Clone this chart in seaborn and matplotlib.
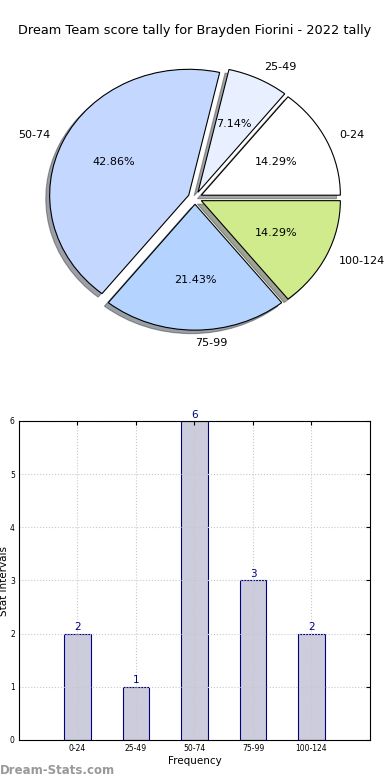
import matplotlib
matplotlib.use("Agg")
import matplotlib.pyplot as plt
import seaborn as sns
import pandas as pd

# Data
intervals = ["0-24", "25-49", "50-74", "75-99", "100-124"]
counts = [2, 1, 6, 3, 2]
pie_colors = ["#ffffff", "#e8f0ff", "#c4d8ff", "#b4d4ff", "#cfeb8c"]
title = "Dream Team score tally for Brayden Fiorini - 2022 tally"

sns.set_style("white")
plt.rcParams["font.family"] = ["DejaVu Sans"]
plt.rcParams["text.color"] = "black"
plt.rcParams["axes.labelcolor"] = "black"
plt.rcParams["xtick.color"] = "black"
plt.rcParams["ytick.color"] = "black"

fig = plt.figure(figsize=(3.9, 7.8), dpi=100)

# Pie chart (top)
ax_pie = fig.add_axes([0.1077, 0.5687, 0.7846, 0.3551])
wedges, texts, autotexts = ax_pie.pie(
    counts,
    labels=intervals,
    colors=pie_colors,
    explode=[0.05] * len(counts),
    autopct="%1.2f%%",
    shadow=True,
    startangle=0,
    wedgeprops=dict(edgecolor="black", linewidth=0.8),
    textprops=dict(fontsize=8, color="black"),
)
ax_pie.set_aspect("auto")
ax_pie.set_xlim(-1.1, 1.1)
ax_pie.set_ylim(-1.1, 1.1)
fig.text(0.5, 0.961, title, ha="center", va="center", fontsize=9.3)

# Bar chart (bottom)
df = pd.DataFrame({"interval": intervals, "count": counts})
ax = fig.add_axes([0.0487, 0.0513, 0.9513 - 0.0487 - 0.0026, 0.4090])
sns.barplot(data=df, x="interval", y="count", color="#ccccdd", saturation=1,
            edgecolor="#000080", linewidth=0.8, width=0.45, ax=ax)
for p in ax.patches:
    p.set_facecolor("#ccccdd")
ax.bar_label(ax.containers[0], fmt="%d", color="#000080", fontsize=7.5, padding=1)
ax.set_xlim(-1, 5)
ax.set_ylim(0, 6)
ax.set_yticks(range(0, 7))
ax.grid(True, color="#c8c8c8", linestyle=":", linewidth=0.8)
ax.set_axisbelow(False)
ax.tick_params(direction="in", top=True, right=True, labelsize=5.5, length=3, pad=3)
for s in ax.spines.values():
    s.set_color("black")
    s.set_linewidth(0.8)
    s.set_zorder(3)
ax.set_xlabel("Frequency", fontsize=7.5, labelpad=2)
ax.set_ylabel("")
fig.text(0.011, 0.255, "Stat Intervals", rotation=90, ha="center", va="center", fontsize=7.5)

fig.text(0.0, 0.012, "Dream-Stats.com", color="#999999", fontsize=8.5,
         fontweight="bold", ha="left", va="center")

fig.savefig("out.png", dpi=100)
